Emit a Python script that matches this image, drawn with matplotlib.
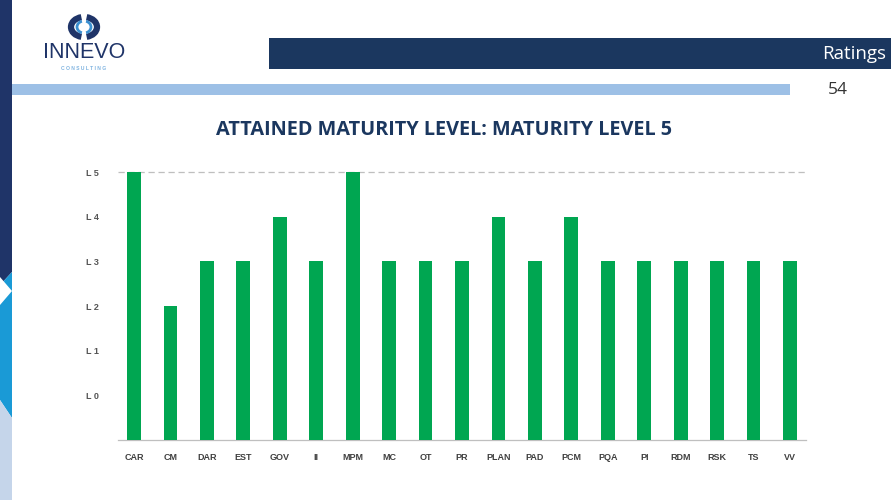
import matplotlib
matplotlib.use("Agg")
import matplotlib.pyplot as plt
from matplotlib.patches import Rectangle, Polygon, Arc

# Process areas and their attained level (0-5)
areas = ["CAR", "CM", "DAR", "EST", "GOV", "II", "MPM", "MC", "OT", "PR",
         "PLAN", "PAD", "PCM", "PQA", "PI", "RDM", "RSK", "TS", "VV"]
levels = [5, 2, 3, 3, 4, 3, 5, 3, 3, 3, 4, 3, 4, 3, 3, 3, 3, 3, 3]
level_ticks = [0, 1, 2, 3, 4, 5]
level_labels = ["L 0", "L 1", "L 2", "L 3", "L 4", "L 5"]

title = "ATTAINED MATURITY LEVEL: MATURITY LEVEL 5"
header = "Ratings"
page_no = "54"

NAVY = "#1B375F"
GREEN = "#00A651"
W, H = 891, 500

fig = plt.figure(figsize=(W / 100, H / 100), dpi=100)

# Decoration layer in pixel coordinates
deco = fig.add_axes([0, 0, 1, 1])
deco.set_xlim(0, W)
deco.set_ylim(H, 0)
deco.axis("off")

# left stripe
deco.add_patch(Polygon([(0, 0), (12, 0), (12, 272), (0, 285)], color="#1F3468", lw=0))
deco.add_patch(Polygon([(0, 285), (12, 272), (12, 418), (0, 400)], color="#1A9AD6", lw=0))
deco.add_patch(Polygon([(0, 400), (12, 418), (12, 500), (0, 500)], color="#C5D5EA", lw=0))
deco.add_patch(Polygon([(0, 277), (12, 291), (0, 305)], color="white", lw=0))

# header bars
deco.add_patch(Rectangle((269, 38), W - 269, 31, color=NAVY, lw=0))
deco.add_patch(Rectangle((12, 84), 778, 11, color="#9DC0E6", lw=0))
deco.text(886, 54, header, color="white", fontsize=13.5, family="Open Sans",
          ha="right", va="center")
deco.text(838, 90, page_no, color="#333333", fontsize=12.5, family="Open Sans",
          ha="center", va="center")

# logo
deco.add_patch(Arc((84, 27), 26, 20, theta1=105, theta2=255, color="#1F3468", lw=4.5))
deco.add_patch(Arc((84, 27), 26, 20, theta1=-75, theta2=75, color="#1F3468", lw=4.5))
deco.add_patch(Arc((84, 27), 14, 12, theta1=110, theta2=250, color="#3A8FD0", lw=2))
deco.add_patch(Arc((84, 27), 14, 12, theta1=-70, theta2=70, color="#3A8FD0", lw=2))
deco.text(84, 53, "INNEVO", color="#1F3468", fontsize=15.5, family="Liberation Sans",
          ha="center", va="center")
deco.text(84, 69, "C O N S U L T I N G", color="#7FB3E0", fontsize=3.6,
          family="Liberation Sans", ha="center", va="center", fontweight="bold")

# title
deco.text(444, 130, title, color=NAVY, fontsize=14.3, family="Open Sans",
          fontweight="bold", ha="center", va="center")

# chart
ax = fig.add_axes([118 / W, 60 / H, 688 / W, 270 / H])
x = range(len(areas))
ax.bar(x, [v + 1 for v in levels], bottom=-1, width=0.38, color=GREEN, zorder=3)
ax.axhline(5, color="#BFBFBF", lw=0.9, ls=(0, (5, 3)), zorder=1)
ax.set_xlim(-0.44, len(areas) - 0.56)
ax.set_ylim(-1, 5.05)

ax.set_yticks(level_ticks)
ax.set_yticklabels(level_labels)
ax.set_xticks(list(x))
ax.set_xticklabels(areas)
for lab in ax.get_xticklabels() + ax.get_yticklabels():
    lab.set_family("Liberation Sans")
    lab.set_fontweight("bold")
    lab.set_fontsize(6.5)
    lab.set_color("#404040")
ax.tick_params(axis="both", length=0)
ax.tick_params(axis="y", pad=22)
ax.tick_params(axis="x", pad=9)
for lab in ax.get_yticklabels():
    lab.set_color("#555555")
ax.tick_params(axis="y", pad=14)

for side in ["top", "right", "left"]:
    ax.spines[side].set_visible(False)
ax.spines["bottom"].set_color("#BFBFBF")
ax.spines["bottom"].set_linewidth(0.9)
ax.patch.set_alpha(0)

fig.savefig("out.png", dpi=100)
